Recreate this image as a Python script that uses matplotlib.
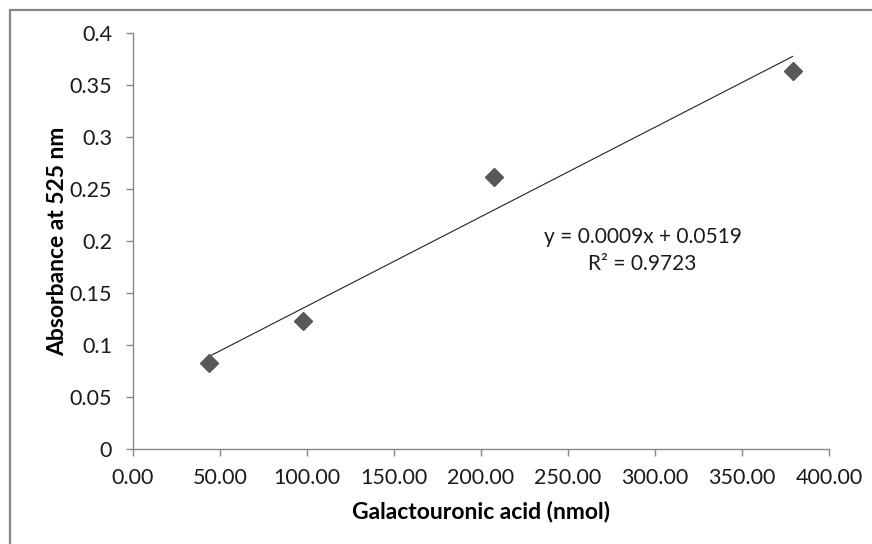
import numpy as np
import matplotlib
matplotlib.use("Agg")
import matplotlib.pyplot as plt
from matplotlib.patches import Rectangle

plt.rcParams['font.family'] = ['Lato', 'DejaVu Sans']

# Data
galacturonic_nmol = [43.9, 97.9, 207.5, 379.1]
absorbance_525 = [0.083, 0.1234, 0.2618, 0.3638]
x_ticks = [0, 50, 100, 150, 200, 250, 300, 350, 400]
y_ticks = [0, 0.05, 0.1, 0.15, 0.2, 0.25, 0.3, 0.35, 0.4]
equation_text = "y = 0.0009x + 0.0519"
r2_text = "R\u00b2 = 0.9723"

fig = plt.figure(figsize=(8.72, 5.44), dpi=100)
ax = fig.add_axes([133/872, 1-449/544, (829-133)/872, (449-33)/544])

gray = '#868686'
ax.plot(galacturonic_nmol, absorbance_525, linestyle='none', marker='D',
        markersize=9, color='#585858', zorder=3)

slope, intercept = np.polyfit(galacturonic_nmol, absorbance_525, 1)
xs = np.array([min(galacturonic_nmol), max(galacturonic_nmol)])
ax.plot(xs, slope*xs + intercept, color='#222222', lw=0.8, zorder=2)

ax.set_xlim(0, 400)
ax.set_ylim(0, 0.4)
ax.set_xticks(x_ticks)
ax.set_xticklabels([f"{v:.2f}" for v in x_ticks])
ax.set_yticks(y_ticks)
ax.set_yticklabels([f"{v:g}" for v in y_ticks])

for s in ['top', 'right']:
    ax.spines[s].set_visible(False)
for s in ['left', 'bottom']:
    ax.spines[s].set_color(gray)
    ax.spines[s].set_linewidth(1.0)
ax.tick_params(axis='both', direction='out', length=5, width=1.0, color=gray,
               labelsize=15.5, labelcolor='#1a1a1a')
ax.tick_params(axis='x', pad=9)
ax.tick_params(axis='y', pad=10)

ax.set_xlabel("Galactouronic acid (nmol)", fontsize=16.5, fontweight='bold',
              labelpad=9)
ax.set_ylabel("Absorbance at 525 nm", fontsize=16.5, fontweight='bold',
              labelpad=1)

ax.text(292.8, 0.2038, equation_text, ha='center', va='center', fontsize=15,
        color='#1a1a1a')
ax.text(292.8, 0.1779, r2_text, ha='center', va='center', fontsize=15,
        color='#1a1a1a')

fig.patches.append(Rectangle((10/872, -0.1), 1.2, 1 - 10/544 + 0.1,
                             transform=fig.transFigure, fill=False,
                             edgecolor=gray, linewidth=1.6))

fig.savefig("out.png", dpi=100)
